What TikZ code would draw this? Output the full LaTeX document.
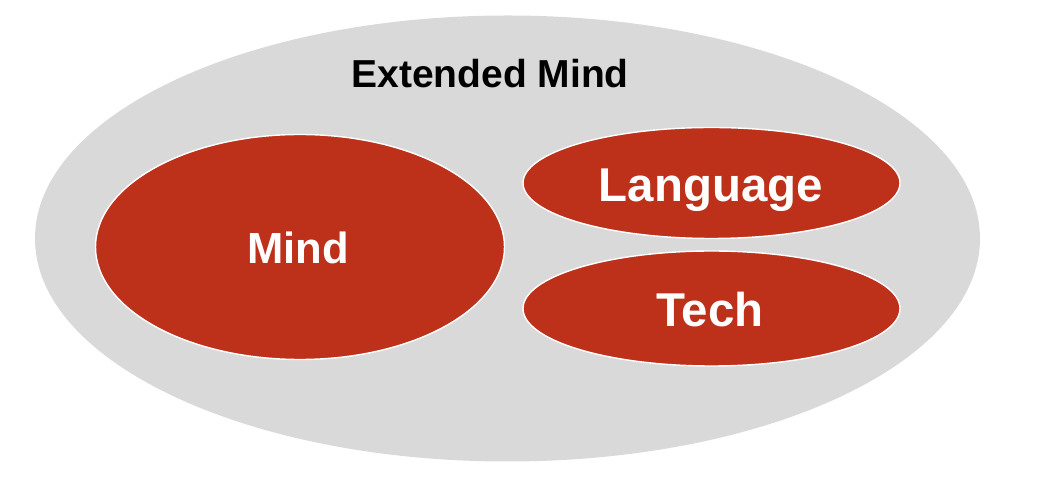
\documentclass[tikz,border=0pt]{standalone}
\usepackage{fontspec}
\setmainfont{Liberation Sans}
\usetikzlibrary{shapes.geometric}
\definecolor{outergray}{HTML}{D9D9D9}
\definecolor{brickred}{HTML}{BD3019}
\begin{document}
\begin{tikzpicture}[x=0.02cm,y=-0.02cm,
  part/.style={ellipse,fill=brickred,draw=white,line width=0.8pt,inner sep=0pt},
  partlabel/.style={anchor=base,text=white,font=\bfseries\fontsize{27}{31}\selectfont}]
\useasboundingbox (0,0) rectangle (1047,492);
% the extended mind as a whole
\node[ellipse,fill=outergray,inner sep=0pt,minimum width=945*0.02cm,minimum height=446*0.02cm] (extended) at (507.5,238.5) {};
\node[anchor=base,font=\bfseries\fontsize{22.2}{26}\selectfont] (extendedlabel) at (490,88) {Extended Mind};
% the parts inside it
\node[part,minimum width=409*0.02cm,minimum height=225*0.02cm] (mind) at (300,247) {};
\node[part,minimum width=377*0.02cm,minimum height=111*0.02cm] (language) at (711.5,183) {};
\node[part,minimum width=377*0.02cm,minimum height=115*0.02cm] (tech) at (711.5,308.5) {};
\node[partlabel,font=\bfseries\fontsize{24.8}{28}\selectfont] (mindlabel) at (298,264) {Mind};
\node[partlabel] (languagelabel) at (711,202) {Language};
\node[partlabel] (techlabel) at (710,327) {Tech};
\end{tikzpicture}
\end{document}
